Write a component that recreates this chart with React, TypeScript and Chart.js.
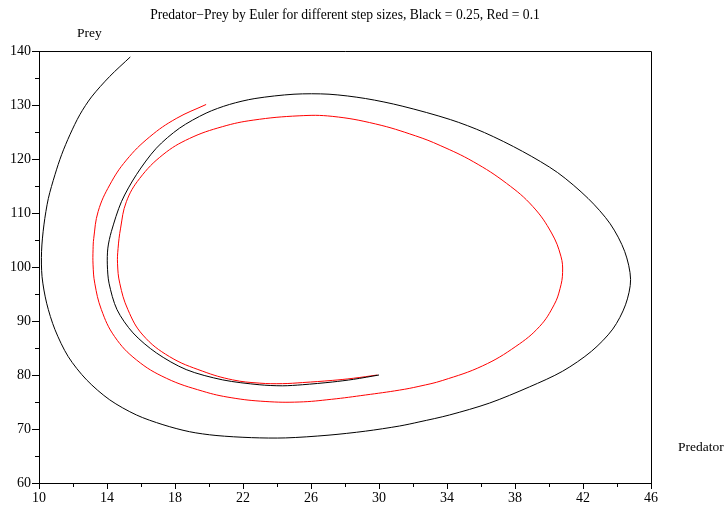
import React, { useEffect, useRef } from "react";
import { Chart, registerables } from "chart.js";

Chart.register(...registerables);

// Black curve: Euler, step 0.25 (predator, prey)
const blackPredator = [
  30.0, 28.5, 27.25, 25.5, 24.32, 22.95, 20.8, 18.66, 16.9, 15.53, 14.59, 14.12, 14.02, 14.05, 14.26, 14.85,
  15.73, 16.9, 18.26, 19.83, 21.2, 22.7, 25.0, 27.06, 29.21, 31.36, 34.2, 36.2, 38.45, 40.5, 42.3, 43.6,
  44.45, 44.8, 44.5, 43.75, 42.5, 40.8, 38.85, 36.5, 34.15, 32.35, 31.2, 29.2, 27.0, 24.5, 22.5, 20.41,
  18.85, 17.29, 15.73, 14.16, 12.8, 11.72, 10.94, 10.45, 10.18, 10.15, 10.29, 10.55, 10.94, 11.33, 11.82,
  12.4, 13.09, 14.16, 15.37,
];
const blackPrey = [
  80.0, 79.2, 78.7, 78.2, 78.0, 78.2, 79.1, 81.0, 84.1, 87.8, 92.1, 97.0, 100.4, 103.5, 106.6, 112.1,
  117.1, 122.0, 125.7, 128.5, 130.1, 131.2, 132.0, 132.0, 131.2, 129.8, 127.3, 124.9, 121.4, 117.5, 112.7, 108.0,
  102.9, 97.7, 93.0, 88.5, 84.4, 80.7, 77.8, 74.8, 72.6, 71.3, 70.55, 69.6, 68.85, 68.35, 68.4, 68.8,
  69.5, 70.8, 72.6, 75.4, 79.1, 83.4, 88.4, 93.3, 98.2, 102.9, 107.8, 112.7, 117.1, 120.8, 124.5,
  128.2, 131.5, 135.3, 138.9,
];

// Red curve: Euler, step 0.1 (predator, prey)
const redPredator = [
  29.9, 28.5, 27.25, 25.5, 24.32, 22.95, 21.39, 19.63, 17.68, 16.11, 15.23, 14.75, 14.62, 14.65, 14.8, 15.14,
  15.92, 17.29, 18.85, 20.8, 22.6, 25.3, 27.25, 29.79, 32.14, 33.6, 35.55, 37.5, 39.05, 40.15, 40.7, 40.8,
  40.65, 40.3, 39.45, 38.05, 36.1, 33.75, 32.35, 31.2, 29.21, 27.2, 25.3, 23.3, 21.3, 19.63, 17.49, 15.73,
  14.45, 13.67, 13.28, 13.18, 13.18, 13.22, 13.48, 14.16, 15.14, 16.51, 18.07, 19.83,
];
const redPrey = [
  80.0, 79.4, 79.0, 78.6, 78.4, 78.5, 79.1, 80.7, 83.4, 87.4, 92.1, 97.0, 100.6, 103.4, 107.2, 112.1,
  116.4, 120.8, 123.8, 126.0, 127.2, 128.0, 127.9, 126.5, 124.3, 122.5, 119.5, 115.5, 111.2, 106.3, 102.0, 99.0,
  96.0, 93.0, 89.0, 85.3, 81.7, 79.0, 77.9, 77.2, 76.3, 75.5, 75.0, 75.1, 75.8, 77.0, 79.4, 82.8,
  87.1, 92.1, 97.0, 100.4, 103.2, 105.3, 110.3, 115.2, 119.8, 124.1, 127.5, 130.1,
];

const xMinorTicks = [12, 16, 20, 24, 28, 32, 36, 40, 44];
const yMinorTicks = [65, 75, 85, 95, 105, 115, 125, 135];

const titleText = "Predator\u2212Prey by Euler for different step sizes, Black = 0.25, Red = 0.1";
const yAxisLabel = "Prey";
const xAxisLabel = "Predator";

const FONT = '"Liberation Serif", "Times New Roman", serif';

const framePlugin = {
  id: "frameAndMinor",
  afterDraw(chart: any) {
    const { ctx, chartArea, scales } = chart;
    const { left, right, top, bottom } = chartArea;
    ctx.save();
    ctx.strokeStyle = "#000";
    ctx.lineWidth = 1;
    ctx.beginPath();
    ctx.moveTo(left, top + 0.5);
    ctx.lineTo(right + 0.5, top + 0.5);
    ctx.lineTo(right + 0.5, bottom);
    ctx.stroke();
    ctx.beginPath();
    for (const v of xMinorTicks) {
      const px = Math.round(scales.x.getPixelForValue(v)) + 0.5;
      ctx.moveTo(px, bottom);
      ctx.lineTo(px, bottom + 4);
    }
    for (const v of yMinorTicks) {
      const py = Math.round(scales.y.getPixelForValue(v)) + 0.5;
      ctx.moveTo(left, py);
      ctx.lineTo(left - 4, py);
    }
    ctx.stroke();
    ctx.fillStyle = "#000";
    ctx.font = "13.5px " + FONT;
    ctx.textBaseline = "middle";
    ctx.textAlign = "left";
    ctx.fillText(yAxisLabel, left + 38, top - 18);
    ctx.fillText(xAxisLabel, right + 27, bottom - 36);
    ctx.restore();
  },
};

export default function App() {
  const ref = useRef<HTMLCanvasElement | null>(null);
  useEffect(() => {
    if (!ref.current) return;
    const black = blackPredator.map((x, i) => ({ x, y: blackPrey[i] }));
    const red = redPredator.map((x, i) => ({ x, y: redPrey[i] }));
    const chart = new Chart(ref.current, {
      type: "scatter",
      data: {
        datasets: [
          {
            label: "Black = 0.25",
            data: black,
            showLine: true,
            borderColor: "#000000",
            backgroundColor: "#000000",
            borderWidth: 1,
            pointRadius: 0,
            tension: 0.3,
          },
          {
            label: "Red = 0.1",
            data: red,
            showLine: true,
            borderColor: "#ff0000",
            backgroundColor: "#ff0000",
            borderWidth: 1,
            pointRadius: 0,
            tension: 0.4,
          },
        ],
      },
      options: {
        responsive: false,
        animation: false,
        layout: { padding: { left: 0, right: 75, top: 0, bottom: 0 } },
        plugins: {
          legend: { display: false },
          tooltip: { enabled: false },
          title: {
            display: true,
            text: titleText,
            fullSize: false,
            color: "#000",
            font: { family: FONT, size: 13.6, weight: "normal" },
            padding: { top: 7, bottom: 27.7 },
          },
        },
        scales: {
          x: {
            type: "linear",
            min: 10,
            max: 46,
            ticks: {
              stepSize: 4,
              color: "#000",
              font: { family: FONT, size: 14 },
              padding: 1,
              maxRotation: 0,
              autoSkip: false,
            },
            grid: { display: true, drawOnChartArea: false, drawTicks: true, tickLength: 6, color: "#000" },
            border: { display: true, color: "#000", width: 1 },
            afterFit(s: any) {
              s.height = 24;
            },
          },
          y: {
            type: "linear",
            min: 60,
            max: 140,
            ticks: {
              stepSize: 10,
              color: "#000",
              font: { family: FONT, size: 14 },
              padding: 1,
              autoSkip: false,
            },
            grid: { display: true, drawOnChartArea: false, drawTicks: true, tickLength: 7, color: "#000" },
            border: { display: true, color: "#000", width: 1 },
            afterFit(s: any) {
              s.width = 39;
            },
          },
        },
      },
      plugins: [framePlugin],
    });
    return () => chart.destroy();
  }, []);
  return (
    <div style={{ position: "fixed", left: 0, top: 0, width: 726, height: 507, background: "#fff" }}>
      <canvas ref={ref} width={726} height={507} style={{ display: "block" }} />
    </div>
  );
}
